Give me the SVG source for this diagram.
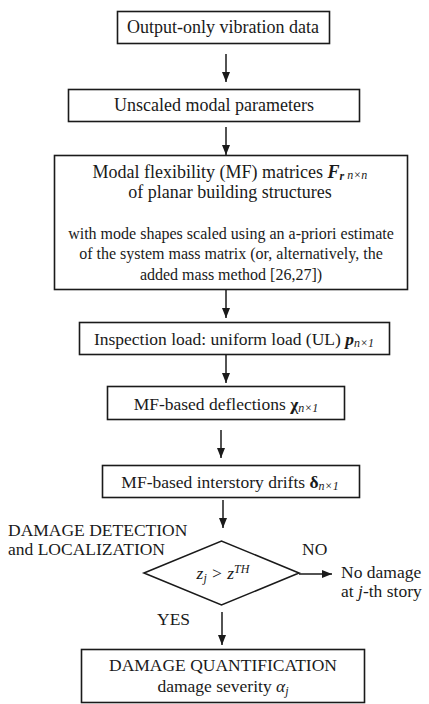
<svg xmlns="http://www.w3.org/2000/svg" width="429" height="704" viewBox="0 0 429 704">
<style>
.box{fill:#fff;stroke:#1a1a1a;stroke-width:1.6}
.t{font-family:'Liberation Serif','Times New Roman',serif;font-size:17.5px;fill:#1a1a1a}
.h{font-size:18px}
.s{font-size:16px}
.c{text-anchor:middle}
.i{font-style:italic}
.b{font-weight:bold}
.sub{font-size:12px;font-style:italic}
.ln{stroke:#1a1a1a;stroke-width:1.5;fill:none}
</style>
<defs>
<marker id="ah" viewBox="0 0 10 10" refX="10" refY="5" markerWidth="10" markerHeight="10" markerUnits="userSpaceOnUse" orient="auto">
<path d="M0,1 L10,5 L0,9 Z" fill="#1a1a1a"/>
</marker>
</defs>
<rect width="429" height="704" fill="#fff"/>
<g id="connectors">
<line class="ln" x1="226" y1="54" x2="226" y2="82" marker-end="url(#ah)"/>
<line class="ln" x1="226" y1="127" x2="226" y2="155" marker-end="url(#ah)"/>
<line class="ln" x1="226" y1="290" x2="226" y2="318" marker-end="url(#ah)"/>
<line class="ln" x1="226" y1="354" x2="226" y2="383" marker-end="url(#ah)"/>
<line class="ln" x1="221" y1="430" x2="221" y2="458" marker-end="url(#ah)"/>
<line class="ln" x1="223" y1="500" x2="223" y2="528" marker-end="url(#ah)"/>
<line class="ln" x1="299" y1="574" x2="332" y2="574" marker-end="url(#ah)"/>
<line class="ln" x1="222" y1="612" x2="222" y2="645" marker-end="url(#ah)"/>
<text class="t" x="302" y="555">NO</text>
<text class="t" x="157" y="625">YES</text>
</g>
<g id="n1">
<rect class="box" x="117.5" y="11.5" width="212" height="32"/>
<text class="t h c" x="223" y="33">Output-only vibration data</text>
</g>
<g id="n2">
<rect class="box" x="68.5" y="89.5" width="291" height="32"/>
<text class="t h c" x="214" y="111">Unscaled modal parameters</text>
</g>
<g id="n3">
<rect class="box" x="54.5" y="155.5" width="353" height="134"/>
<text class="t h c" x="230" y="178">Modal flexibility (MF) matrices <tspan class="i b">F</tspan><tspan class="i b" font-size="12px" dy="2">r</tspan><tspan class="sub" dy="-1"> n×n</tspan></text>
<text class="t h c" x="230" y="198">of planar building structures</text>
<text class="t s c" x="231" y="239">with mode shapes scaled using an a-priori estimate</text>
<text class="t s c" x="231" y="259">of the system mass matrix (or, alternatively, the</text>
<text class="t s c" x="231" y="280">added mass method [26,27])</text>
</g>
<g id="n4">
<rect class="box" x="79.5" y="322.5" width="310" height="32"/>
<text class="t c" x="234" y="345">Inspection load: uniform load (UL) <tspan class="i b">p</tspan><tspan class="sub" dy="2">n×1</tspan></text>
</g>
<g id="n5">
<rect class="box" x="107.5" y="386.5" width="237" height="33"/>
<text class="t c" x="226" y="410">MF-based deflections <tspan class="b">χ</tspan><tspan class="sub" dy="2">n×1</tspan></text>
</g>
<g id="n6">
<rect class="box" x="102.5" y="465.5" width="257" height="32"/>
<text class="t c" x="230" y="488">MF-based interstory drifts <tspan class="b">δ</tspan><tspan class="sub" dy="2">n×1</tspan></text>
</g>
<g id="n7">
<text class="t" x="8" y="536">DAMAGE DETECTION</text>
<text class="t" x="8" y="555">and LOCALIZATION</text>
<polygon class="box" points="144,573 221.5,541 299,573 221.5,605"/>
<text class="t i c" x="223" y="579" font-size="16px" fill="#444">z<tspan font-size="12px" dy="3">j</tspan><tspan dy="-3"> &gt; z</tspan><tspan font-size="12px" dy="-6">TH</tspan></text>
</g>
<g id="n8">
<text class="t" x="341" y="578" font-size="18px">No damage</text>
<text class="t" x="341" y="597" font-size="18px">at <tspan class="i">j</tspan>-th story</text>
</g>
<g id="n9">
<rect class="box" x="81.5" y="649.5" width="283" height="53"/>
<text class="t c" x="223" y="671">DAMAGE QUANTIFICATION</text>
<text class="t c" x="223" y="692">damage severity <tspan class="i">α</tspan><tspan class="sub" dy="3">j</tspan></text>
</g>
</svg>
